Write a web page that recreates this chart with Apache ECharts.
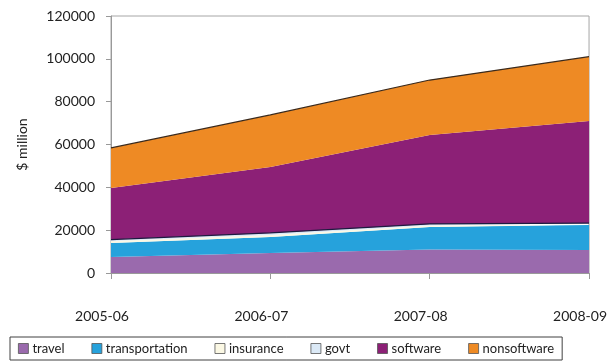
<!DOCTYPE html>
<html>
<head>
<meta charset="utf-8">
<script src="https://cdn.jsdelivr.net/npm/echarts@6/dist/echarts.min.js"></script>
<style>
  html, body { margin: 0; padding: 0; background: #fff; }
  #chart { width: 610px; height: 362px; }
</style>
</head>
<body>
<div id="chart"></div>
<script>
// Fiscal years on the x axis
const years = ['2005-06', '2006-07', '2007-08', '2008-09'];

// Segment values, $ million (stacked bottom to top)
const travel         = [7500, 9300, 11000, 10700];
const transportation = [6500, 7500, 10500, 11700];
const insurance      = [900, 1000, 700, 300];
const govt           = [700, 900, 700, 600];
const software       = [24100, 30800, 41500, 47700];
const nonsoftware    = [18700, 24300, 25700, 30000];

// Value axis ticks
const yTicks = [0, 20000, 40000, 60000, 80000, 100000, 120000];

const FONT = 'Lato, "Liberation Sans", sans-serif';

const segments = [
  { name: 'travel',         data: travel,         color: '#9a6aad', line: null },
  { name: 'transportation', data: transportation, color: '#26a2dc', line: null },
  { name: 'insurance',      data: insurance,      color: '#fbf8e4', line: null },
  { name: 'govt',           data: govt,           color: '#dbe9f6', line: '#1e1a40' },
  { name: 'software',       data: software,       color: '#8c2076', line: null },
  { name: 'nonsoftware',    data: nonsoftware,    color: '#ee8a24', line: '#3b2a1c' }
];

const chart = echarts.init(document.getElementById('chart'), null, { renderer: 'canvas' });

chart.setOption({
  animation: false,
  backgroundColor: '#ffffff',
  textStyle: { fontFamily: FONT },
  grid: {
    left: 111, right: 20, top: 16, bottom: 89,
    show: true, borderColor: '#a6a6a6', borderWidth: 1, backgroundColor: 'transparent'
  },
  legend: {
    left: 10, top: 337,
    orient: 'horizontal',
    padding: [5, 8, 5, 8],
    itemGap: 27,
    itemWidth: 10, itemHeight: 10,
    borderColor: '#404040', borderWidth: 1,
    textStyle: { fontFamily: FONT, fontSize: 13, color: '#222', padding: [0, 0, 0, -1] },
    data: segments.map(s => ({
      name: s.name,
      icon: 'rect',
      itemStyle: { color: s.color, borderColor: '#555', borderWidth: 0.8 }
    }))
  },
  xAxis: {
    type: 'category',
    data: years,
    boundaryGap: false,
    axisLine: { show: true, lineStyle: { color: '#999' } },
    axisTick: { show: true, length: 6, lineStyle: { color: '#999' } },
    axisLabel: {
      margin: 36, fontSize: 14, color: '#222', fontFamily: FONT, showMaxLabel: true,
      padding: [0, 18, 0, 0]
    },
    splitLine: { show: false }
  },
  yAxis: {
    type: 'value',
    min: yTicks[0],
    max: yTicks[yTicks.length - 1],
    interval: yTicks[1] - yTicks[0],
    name: '$ million',
    nameLocation: 'middle',
    nameGap: 82,
    nameRotate: 90,
    nameTextStyle: { fontSize: 14, color: '#222', fontFamily: FONT },
    axisLine: { show: true, lineStyle: { color: '#999' } },
    axisTick: { show: true, length: 5, lineStyle: { color: '#999' } },
    axisLabel: {
      margin: 16, fontSize: 14, color: '#222', fontFamily: FONT,
      formatter: v => String(v)
    },
    splitLine: { show: false }
  },
  series: segments.map(s => ({
    name: s.name,
    type: 'line',
    stack: 'total',
    data: s.data,
    symbol: 'none',
    smooth: false,
    itemStyle: { color: s.color },
    lineStyle: s.line ? { color: s.line, width: 1.2 } : { width: 0 },
    areaStyle: { color: s.color, opacity: 1 },
    z: 2
  }))
});
</script>
</body>
</html>
